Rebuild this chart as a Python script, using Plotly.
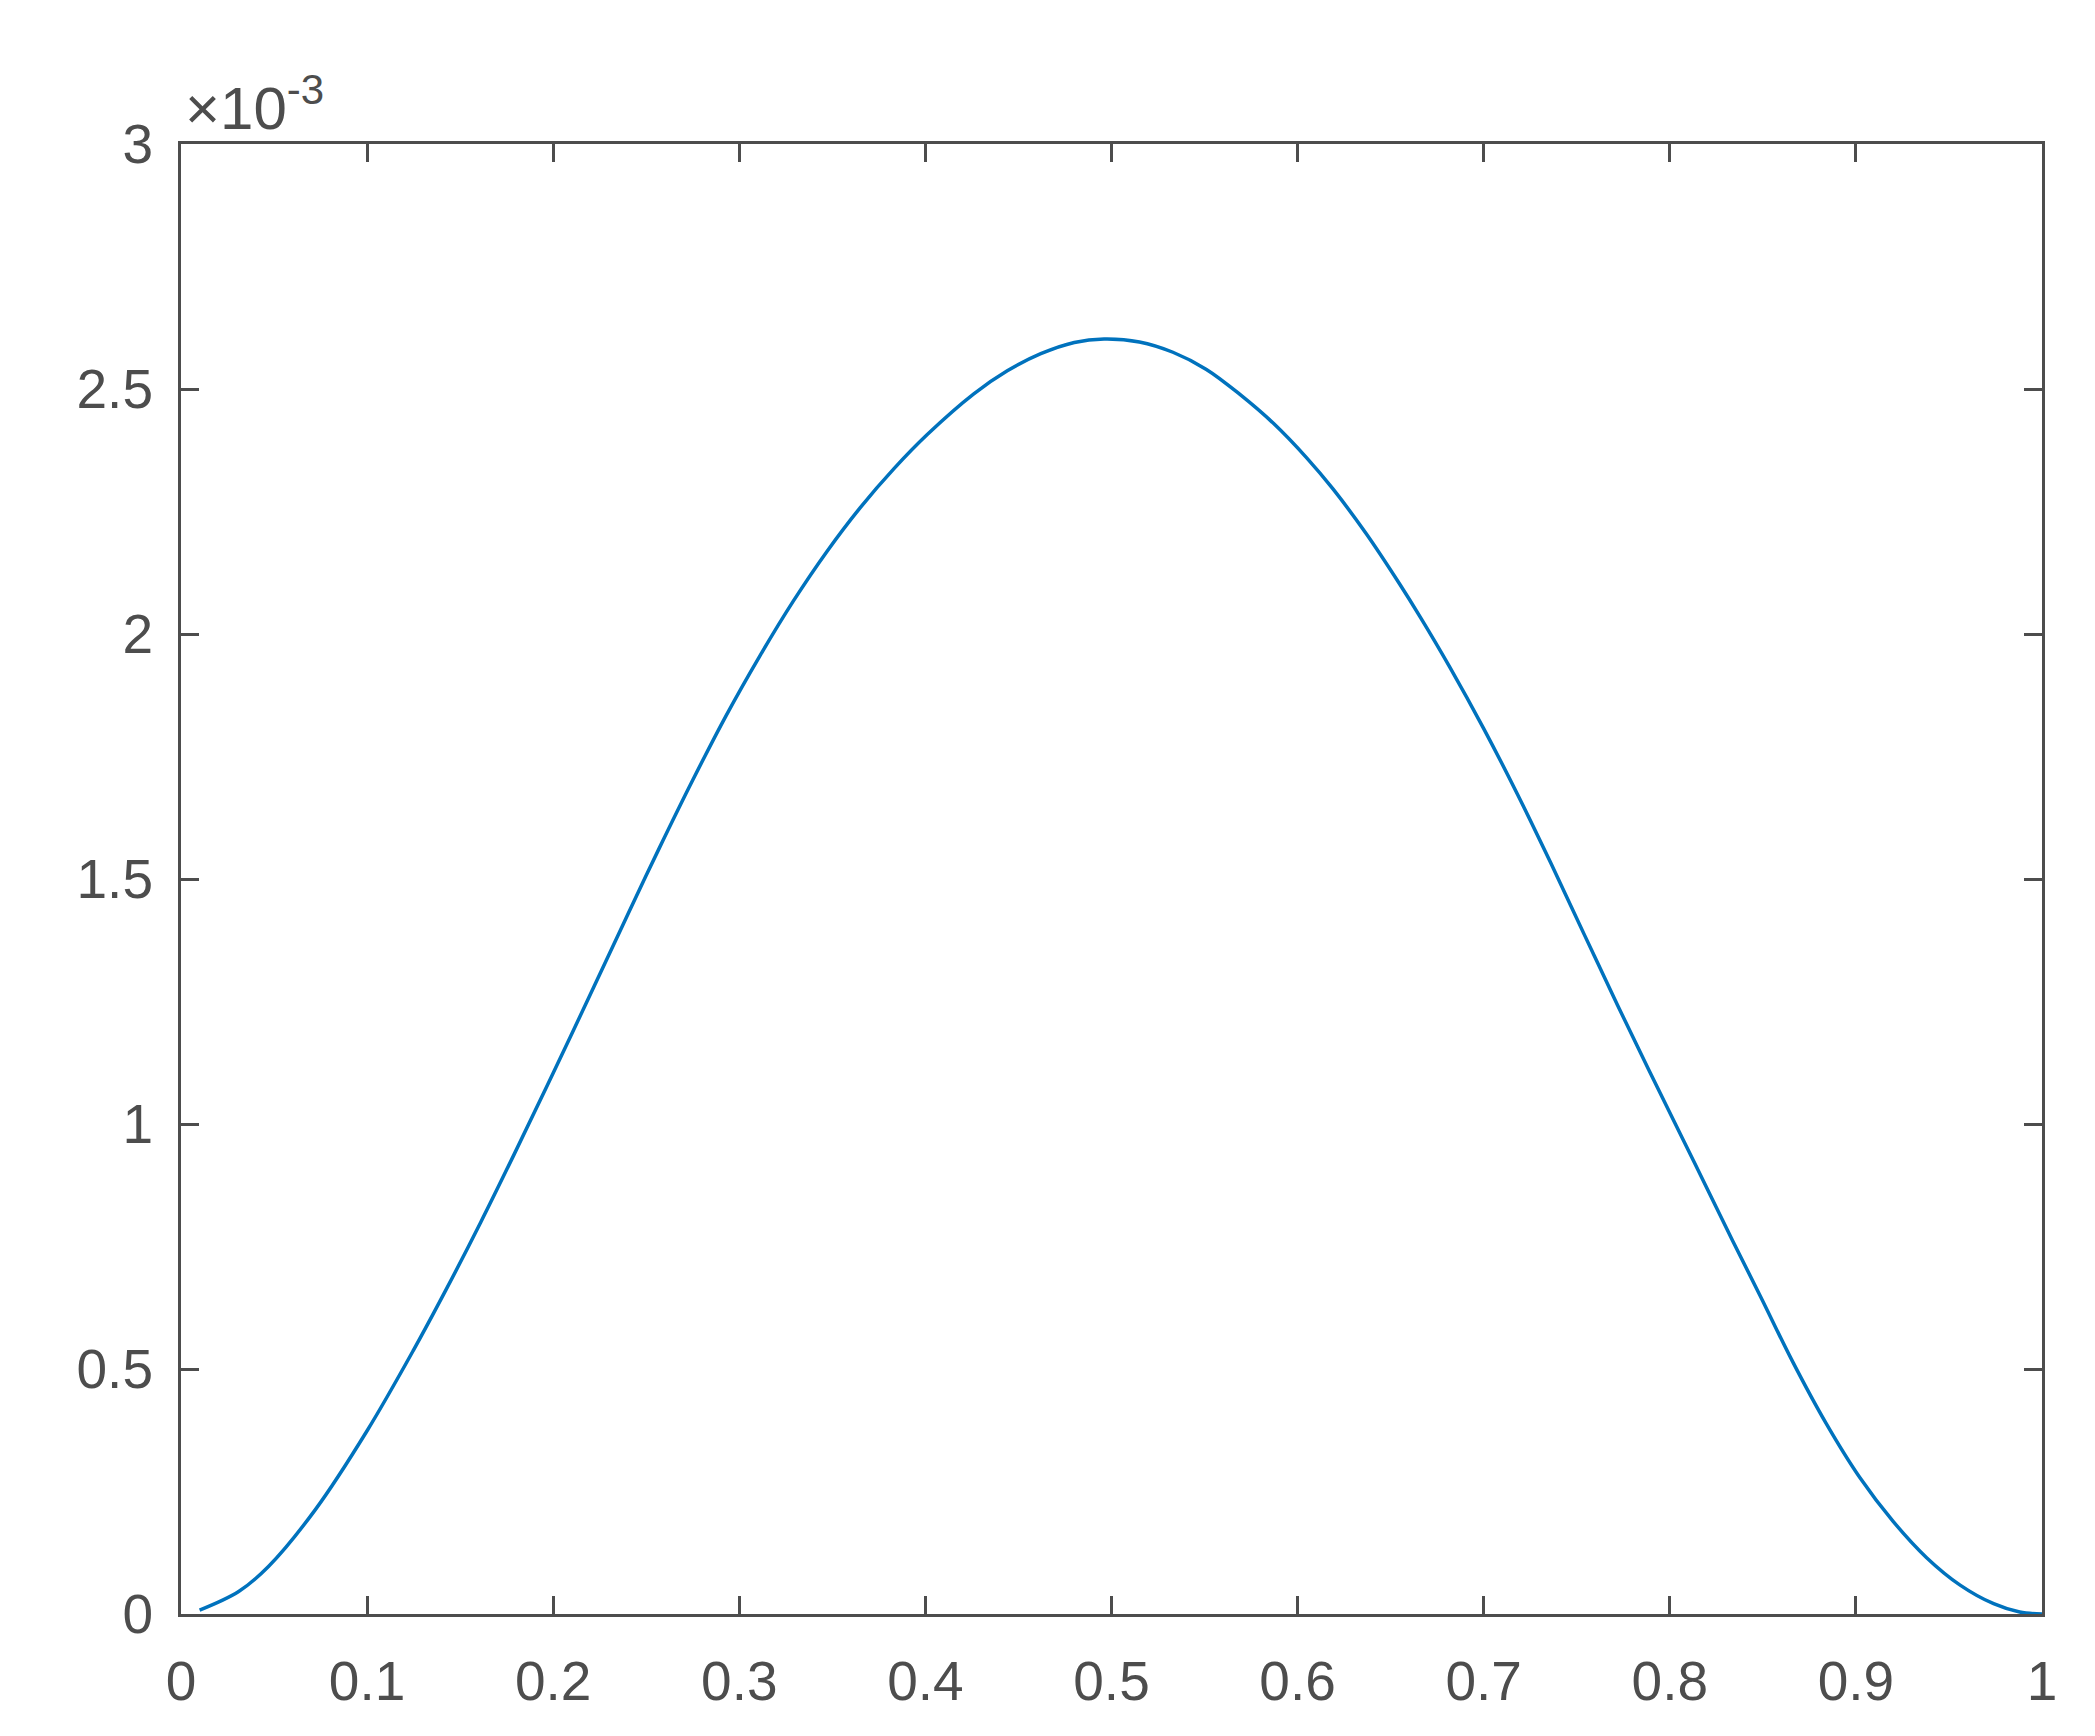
"""Single bump curve, MATLAB-style axes box"""
import plotly.graph_objects as go

# x positions and values (in units of 1e-3)
X_VALUES = [
  0.010, 0.031, 0.047, 0.072, 0.100, 0.125, 0.143, 0.161, 0.179, 0.200,
  0.222, 0.240, 0.257, 0.275, 0.293, 0.311, 0.329, 0.347, 0.365, 0.383,
  0.401, 0.426, 0.444, 0.462, 0.480, 0.496, 0.515, 0.533, 0.551, 0.569,
  0.587, 0.605, 0.619, 0.637, 0.655, 0.666, 0.682, 0.700, 0.718, 0.736,
  0.754, 0.772, 0.789, 0.803, 0.813, 0.831, 0.849, 0.866, 0.884, 0.902,
  0.920, 0.938, 0.956, 0.974, 0.988, 1.000,
]
Y_VALUES_E3 = [
  0.008, 0.046, 0.097, 0.212, 0.374, 0.539, 0.666, 0.799, 0.938, 1.104,
  1.281, 1.427, 1.563, 1.702, 1.834, 1.955, 2.067, 2.168, 2.258, 2.337,
  2.407, 2.490, 2.537, 2.572, 2.595, 2.602, 2.596, 2.575, 2.540, 2.489,
  2.430, 2.359, 2.296, 2.204, 2.101, 2.034, 1.931, 1.807, 1.674, 1.533,
  1.387, 1.242, 1.108, 1.000, 0.923, 0.783, 0.646, 0.515, 0.389, 0.279,
  0.189, 0.115, 0.059, 0.021, 0.004, 0.000,
]
Y_TICK_LABELS = ["0", "0.5", "1", "1.5", "2", "2.5", "3"]
X_TICK_LABELS = ["0", "0.1", "0.2", "0.3", "0.4", "0.5", "0.6", "0.7", "0.8", "0.9", "1"]

SCALE = 1e-3
LINE_COLOR = "#0072BD"
AXIS_COLOR = "#4d4d4d"
FONT = "Liberation Sans, Arial, Helvetica, sans-serif"

fig = go.Figure()
fig.add_trace(go.Scatter(
  x=X_VALUES,
  y=[v * SCALE for v in Y_VALUES_E3],
  mode="lines",
  line=dict(color=LINE_COLOR, width=3.5, shape="spline", smoothing=1.0),
  showlegend=False,
))

axis_style = dict(
  showline=True,
  linecolor=AXIS_COLOR,
  linewidth=3,
  mirror="ticks",
  ticks="inside",
  ticklen=18,
  tickwidth=3,
  tickcolor=AXIS_COLOR,
  showgrid=False,
  zeroline=False,
  tickfont=dict(family=FONT, size=55, color=AXIS_COLOR),
)

fig.update_xaxes(
  range=[0, 1],
  tickvals=[i / 10 for i in range(11)],
  ticktext=X_TICK_LABELS,
  ticklabelstandoff=17,
  **axis_style,
)
fig.update_yaxes(
  range=[0, 3 * SCALE],
  tickvals=[i * 0.5 * SCALE for i in range(7)],
  ticktext=Y_TICK_LABELS,
  ticklabelstandoff=14,
  **axis_style,
)

# MATLAB-style exponent label above the y axis
fig.add_annotation(
  text="\u00d710<sup>-3</sup>",
  xref="paper", yref="paper",
  x=0.0, y=1.0,
  xanchor="left", yanchor="bottom",
  xshift=2, yshift=0,
  showarrow=False,
  font=dict(family=FONT, size=60, color=AXIS_COLOR),
)

# page body has an 8px margin, so the figure is a bit smaller than the window
fig.update_layout(
  width=2079,
  height=1720,
  margin=dict(l=173, r=45, t=136, b=114),
  paper_bgcolor="white",
  plot_bgcolor="white",
)

fig.write_html("out.html")
